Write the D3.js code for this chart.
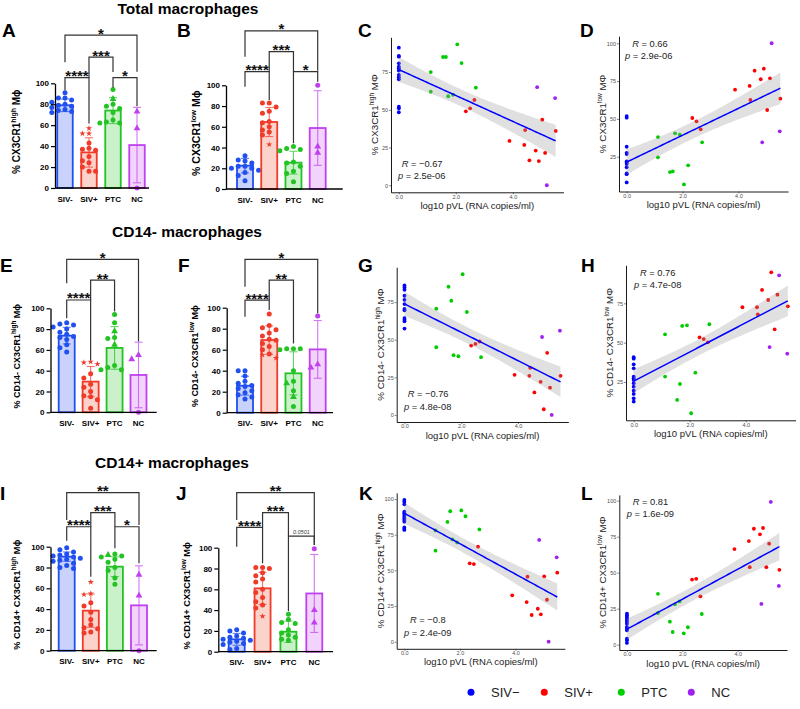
<!DOCTYPE html>
<html><head><meta charset="utf-8">
<script src="https://cdn.jsdelivr.net/npm/d3@7"></script>
<style>body{margin:0;background:#fff} svg{display:block}</style>
</head><body>
<script>
// ---------------- DATA ----------------
const groups = ["SIV-","SIV+","PTC","NC"];
const legendLabels = ["SIV\u2212","SIV+","PTC","NC"];

// Bar panels: means, SD, individual points (circles / triangles / stars)
const A_mean = [79, 34, 74, 41];
const A_sd = [6, 14, 12.5, 36];
const A_circ = [[91,86,86,84,82,80,79,78,77,75,74,73,72],[43,38,37,36,30,26,24,20,16,16],[94,80,78,76,72,65,63,62,62],[0]];
const A_tri = [[],[],[85],[73,57]];
const A_star = [[],[57,52,52],[],[]];
const A_brk = [[0,3,"*",146,120,111],[1,2,"***",125,105.4,110.8],[0,1,"****",105.4,93.3,61.6],[2,3,"*",105.4,96,78]];

const B_mean = [22.5, 64.6, 25.4, 58.8];
const B_sd = [7, 14, 11, 36];
const B_circ = [[32,28,27,25,22,22,20,20,18,16,13,8],[83,83,79,75,73,65,64,60,57,55,52],[41,39,38,37,26,25,22,17,15,7],[100]];
const B_tri = [[],[],[],[41,35]];
const B_star = [[],[43],[],[]];
const B_brk = [[0,3,"*",152.4,127.6,114],[1,2,"***",132.4,113.1,113.1],[0,1,"****",113.1,98.7,85.8],[2,3,"*",113.1,44,103.5]];

const E_mean = [73.7, 29.5, 61.9, 35.9];
const E_sd = [8, 14.5, 20.5, 31.5];
const E_circ = [[86,85,84,82,80,77,75,73,72,70,65,62,58],[37,33,27,24,20,16,15,12,4],[94,86,72,71,45,43,41,41],[0]];
const E_tri = [[],[],[78,65],[55,51]];
const E_star = [[],[48.7,47.8,46.5],[],[]];
const E_brk = [[0,3,"*",147,124,68],[1,2,"**",127,108,97],[0,1,"****",108,90.4,50.3]];

const F_mean = [25.7, 69.2, 37.5, 60.3];
const F_sd = [9, 13.5, 20.5, 27.5];
const F_circ = [[40,40,35,30,28,26,25,23,21,19,17,15,13],[94,83,81,79,76,73,70,69,66,63,60,56],[61,61,61,60,40,30,21,6],[92]];
const F_tri = [[],[],[28,15],[46,43]];
const F_star = [[],[55,52],[],[]];
const F_brk = [[0,3,"*",146,120,94.6],[1,2,"**",126.3,107.3,66],[0,1,"****",107.3,91.4,97.8]];

const I_mean = [90.4, 38.5, 80.8, 43.6];
const I_sd = [4.5, 16, 9.5, 38];
const I_circ = [[99,97,95,93,92,91,90,89,88,87,86,84,82,80,79],[46,43,37,30,25,22,21,18,17],[93,91,90,88,85,80,77,70,64],[0]];
const I_tri = [[],[],[92],[73,53]];
const I_star = [[],[66,55,54],[],[]];
const I_brk = [[0,3,"**",152,125.6,120.8],[1,2,"***",132.7,119.2,119.2],[0,1,"****",119.2,105.8,71.2],[2,3,"*",119.2,98.4,84]];

const J_mean = [11.9, 60.9, 19.2, 56];
const J_sd = [5.7, 15.5, 10.3, 37.5];
const J_circ = [[21,20,18,15,14,13,12,11,10,9,8,7,3,2],[81,81,80,76,73,70,67,60,57,52,48,45,42],[36,31,28,27,21,18,16,14,12,11],[99]];
const J_tri = [[],[],[],[40,28]];
const J_star = [[],[34],[],[]];
const J_brk = [[0,3,"**",153,126.6,102.6],[1,2,"***",133.7,119.6,111.2],[0,1,"****",119.6,101,85],[2,3,"0.0501",111.2,39,102.6]];

// Scatter panels: log10 pVL per animal (SIV- animals are at 0)
const pvlNeg = 0;
const pvlPos = [2.35,2.5,2.65,3.88,4.4,4.43,4.58,4.8,4.91,5.03,5.13,5.5];
const pvlPTC = [1.12,1.12,1.55,1.65,1.73,1.9,2.05,2.2,2.7];
const pvlNC  = [4.85,5.19,5.48];

const C_neg = [91.2,85.7,85.2,80.8,78.6,77.5,76,73.1,71.6,70.2,52.1,51,48.4];
const C_pos = [49,51,56.5,29.4,26.7,36.6,16.5,23,16,43.5,21.4,36];
const C_ptc = [75,62,85,85,59,60,93.4,81,64.7];
const C_nc  = [65,0,57.8];

const D_neg = [51.9,50.8,31.6,27.6,26.8,22,21,20.2,18,14,13.5,8];
const D_pos = [50.6,48.4,43.1,69.3,71.8,62.5,81.9,76.2,83.2,55.9,76.8,63.4];
const D_ptc = [38,24.6,14.9,15.3,40.5,39.6,6.7,19.3,34.5];
const D_nc  = [34.5,100,41.8];

const G_neg = [86,84.7,83.2,79.2,76.5,73.7,70.4,69.5,64.4,63.3,62.2,57.4];
const G_pos = [46.1,47.2,48.8,26.7,26,31.3,15,22,3.8,41.3,18.1,26];
const G_ptc = [70.6,45,85.2,75.9,39.7,39,93.5,68.4,38.4];
const G_nc  = [51.8,0,56];

const H_neg = [40.7,39.8,36.2,33.7,28.4,27.3,26.3,24.2,22,19.5,17.4,14.6,12.5];
const H_pos = [53.4,52.3,50.2,72.5,72.5,68,83.5,77.1,94.7,58.5,80.5,73.1];
const H_ptc = [55.3,28.4,13.6,23.7,60.6,61,5.1,30.9,61.7];
const H_nc  = [47.2,92.8,43];

const K_neg = [99.3,98.1,96.3,91.1,90,88.8,87.6,86.4,85.3,84.1,80.1,79,78.3];
const K_pos = [54.9,54.4,66.6,32.5,27.8,45.6,18.7,23.1,19.2,45.8,29.4,48.4];
const K_ptc = [63.8,78,83.9,91.4,71.7,69.6,92,87.9,78.7];
const K_nc  = [71.3,0,59.1];

const L_neg = [21.6,20.4,19.3,18.1,16.9,15.8,14.6,12.3,11.1,10,4.2,3,1.2];
const L_pos = [45.2,45.7,33.6,66.4,71.9,53.8,80.5,76.6,81,53.8,70.1,52];
const L_ptc = [35.3,22,16,8.8,28,30,7.9,12.1,21.3];
const L_nc  = [28.3,99.1,40.8];

const statR = ["R = \u22120.67","R = 0.66","R = \u22120.76","R = 0.76","R = \u22120.8","R = 0.81"];
const statP = ["2.5e-06","2.9e-06","4.8e-08","4.7e-08","2.4e-09","1.6e-09"];

// ---------------- STYLE ----------------
const BAR_STROKE = ["#2050f0","#f03a2a","#22c322","#c040f0"];
const BAR_FILL   = ["#c8d2fa","#fcd3cb","#cbf1cb","#f1d3fb"];
const SC_COL     = ["#0000ff","#ff0000","#00cd00","#a020f0"];
const FONT = "'Liberation Sans', Arial, Helvetica, sans-serif";

const W = 800, H = 709;
const svg = d3.select("body").append("svg").attr("width", W).attr("height", H)
  .style("font-family", FONT);

// Titles
[["Total macrophages",188,14],["CD14- macrophages",187,237],["CD14+ macrophages",172,468]].forEach(t=>{
  svg.append("text").attr("x",t[1]).attr("y",t[2]).attr("text-anchor","middle")
    .attr("font-size",15.5).attr("font-weight","bold").text(t[0]);
});
// Panel letters
[["A",2,37],["B",177,37],["C",358,37],["D",580,37],["E",0,272],["F",178,272],["G",358,272],["H",581,272],
 ["I",0,500],["J",176,500],["K",359,500],["L",581,500]].forEach(t=>{
  svg.append("text").attr("x",t[1]).attr("y",t[2]).attr("font-size",19).attr("font-weight","bold").text(t[0]);
});

// ---------------- BAR PANELS ----------------
function swarm(items, y, spread) {
  // deterministic beeswarm: sort by value, place at first non-colliding offset
  const offs = [0,-spread*0.5,spread*0.5,-spread,spread,-spread*0.25,spread*0.25,-spread*0.75,spread*0.75];
  const placed = [];
  items.slice().sort((a,b)=>b.v-a.v).forEach(it=>{
    const py = y(it.v);
    let best = offs[0], bestD = -1;
    for (const o of offs) {
      let md = Infinity;
      placed.forEach(p=>{ const d = Math.hypot(p.dx-o, p.py-py); if (d<md) md=d; });
      if (md >= 4.6) { best = o; bestD = Infinity; break; }
      if (md > bestD) { bestD = md; best = o; }
    }
    placed.push({...it, dx:best, py});
  });
  return placed;
}

function drawBar(p) {
  const g = svg.append("g");
  const x = d3.scalePoint().domain(groups).range([p.cats[0], p.cats[1]]);
  const y = d3.scaleLinear().domain([0,100]).range([p.y0, p.y100]);
  groups.forEach((gn,i)=>{
    const cx = x(gn), bw = p.barW;
    g.append("rect").attr("x",cx-bw/2).attr("y",y(p.mean[i])).attr("width",bw)
      .attr("height",y(0)-y(p.mean[i])).attr("fill",BAR_FILL[i]).attr("stroke",BAR_STROKE[i]).attr("stroke-width",1.8);
    const lo = y(Math.max(0,p.mean[i]-p.sd[i])), hi = y(p.mean[i]+p.sd[i]);
    const eg = g.append("g").attr("stroke",BAR_STROKE[i]).attr("stroke-width",1.1).attr("opacity",0.7);
    eg.append("line").attr("x1",cx).attr("x2",cx).attr("y1",lo).attr("y2",hi);
    eg.append("line").attr("x1",cx-4).attr("x2",cx+4).attr("y1",hi).attr("y2",hi);
    eg.append("line").attr("x1",cx-4).attr("x2",cx+4).attr("y1",lo).attr("y2",lo);
    const items = [];
    p.circ[i].forEach(v=>items.push({v,s:"c"}));
    p.tri[i].forEach(v=>items.push({v,s:"t"}));
    p.star[i].forEach(v=>items.push({v,s:"s"}));
    swarm(items, y, p.barW*0.85).forEach(pt=>{
      if (pt.s==="c") {
        g.append("circle").attr("cx",cx+pt.dx).attr("cy",pt.py).attr("r",2.5).attr("fill",BAR_STROKE[i]);
      } else {
        const sym = pt.s==="t" ? d3.symbol(d3.symbolTriangle, 20) : d3.symbol(d3.symbolStar, 12);
        g.append("path").attr("d",sym()).attr("transform",`translate(${cx+pt.dx},${pt.py})`).attr("fill",BAR_STROKE[i]);
      }
    });
  });
  // axes
  const ax = g.append("g").attr("transform",`translate(${p.axisX},0)`)
    .call(d3.axisLeft(y).tickValues([0,20,40,60,80,100]).tickSize(4).tickPadding(2).tickSizeOuter(0));
  ax.select(".domain").attr("stroke","#000").attr("stroke-width",1.3);
  ax.selectAll(".tick line").attr("stroke","#000").attr("stroke-width",1.2);
  ax.selectAll(".tick text").attr("font-size",8).attr("font-weight","bold").attr("font-family",FONT).attr("fill","#000");
  g.append("line").attr("x1",p.axisX).attr("x2",p.xEnd).attr("y1",y(0)).attr("y2",y(0))
    .attr("stroke","#000").attr("stroke-width",1.3);
  groups.forEach(gn=>{
    g.append("text").attr("x",x(gn)).attr("y",p.y0+13.5).attr("text-anchor","middle")
      .attr("font-size",8).attr("font-weight","bold").text(gn);
  });
  // y title
  const cy = (p.y0+p.y100)/2 - 4;
  const t = g.append("text").attr("transform",`translate(${p.labelX},${cy}) rotate(-90)`)
    .attr("text-anchor","middle").attr("font-size",p.labelSize).attr("font-weight","bold");
  t.append("tspan").text(p.label[0]);
  t.append("tspan").attr("dy",-p.labelSize*0.4).attr("font-size",p.labelSize*0.7).text(p.label[1]);
  t.append("tspan").attr("dy",p.labelSize*0.4).text(" M\u03d5");
  // brackets
  p.brk.forEach(b=>{
    const x1 = x(groups[b[0]]), x2 = x(groups[b[1]]);
    g.append("path").attr("d",`M${x1},${y(b[4])}V${y(b[3])}H${x2}V${y(b[5])}`)
      .attr("fill","none").attr("stroke","#333").attr("stroke-width",1.2);
    if (b[2].startsWith("*")) {
      g.append("text").attr("x",(x1+x2)/2).attr("y",y(b[3])+3.5).attr("text-anchor","middle")
        .attr("font-size",15).attr("font-weight","bold").attr("fill","#111").text(b[2]);
    } else {
      g.append("text").attr("x",(x1+x2)/2).attr("y",y(b[3])-2).attr("text-anchor","middle")
        .attr("font-size",5.5).attr("font-style","italic").attr("fill","#444").text(b[2]);
    }
  });
}

drawBar({mean:A_mean, sd:A_sd, circ:A_circ, tri:A_tri, star:A_star, brk:A_brk,
  axisX:55, y0:188, y100:83.3, cats:[65,137], xEnd:149, barW:15.5,
  labelX:20, labelSize:10, label:["% CX3CR1","high"]});
drawBar({mean:B_mean, sd:B_sd, circ:B_circ, tri:B_tri, star:B_star, brk:B_brk,
  axisX:226, y0:189, y100:85.3, cats:[245,317.7], xEnd:342.7, barW:16,
  labelX:200, labelSize:10.5, label:["% CX3CR1","low"]});
drawBar({mean:E_mean, sd:E_sd, circ:E_circ, tri:E_tri, star:E_star, brk:E_brk,
  axisX:50.5, y0:412.3, y100:308.3, cats:[66.7,138.5], xEnd:156.7, barW:16,
  labelX:20, labelSize:9, label:["% CD14- CX3CR1","high"]});
drawBar({mean:F_mean, sd:F_sd, circ:F_circ, tri:F_tri, star:F_star, brk:F_brk,
  axisX:226.7, y0:412.7, y100:307.7, cats:[245,317.7], xEnd:333, barW:16,
  labelX:198, labelSize:9, label:["% CD14- CX3CR1","low"]});
drawBar({mean:I_mean, sd:I_sd, circ:I_circ, tri:I_tri, star:I_star, brk:I_brk,
  axisX:50.5, y0:650.7, y100:546.7, cats:[66.7,139], xEnd:156.7, barW:16,
  labelX:20, labelSize:9.3, label:["% CD14+ CX3CR1","high"]});
drawBar({mean:J_mean, sd:J_sd, circ:J_circ, tri:J_tri, star:J_star, brk:J_brk,
  axisX:218.3, y0:651.7, y100:547.7, cats:[236.7,314.3], xEnd:333, barW:16,
  labelX:190, labelSize:9.3, label:["% CD14+ CX3CR1","low"]});

// ---------------- SCATTER PANELS ----------------
function drawScatter(p, idx) {
  const g = svg.append("g");
  const sets = [
    {x:p.neg.map(()=>pvlNeg), y:p.neg, c:SC_COL[0]},
    {x:pvlPos, y:p.pos, c:SC_COL[1]},
    {x:pvlPTC, y:p.ptc, c:SC_COL[2]},
    {x:pvlNC, y:p.nc, c:SC_COL[3]}
  ];
  const allX = [].concat(...sets.map(s=>s.x)), allY = [].concat(...sets.map(s=>s.y));
  const xe = d3.extent(allX), ye = d3.extent(allY);
  const xp = (xe[1]-xe[0])*0.05, yp = (ye[1]-ye[0])*0.05;
  const x = d3.scaleLinear().domain([xe[0]-xp, xe[1]+xp]).range([p.l, p.r]);
  const y = d3.scaleLinear().domain([ye[0]-yp, ye[1]+yp]).range([p.b, p.t]);
  // points
  sets.forEach(s=>{
    s.y.forEach((v,i)=>{
      g.append("circle").attr("cx",x(s.x[i])).attr("cy",y(v)).attr("r",1.9).attr("fill",s.c);
    });
  });
  // linear fit with 95% CI
  const n = allX.length, mx = d3.mean(allX), my = d3.mean(allY);
  let sxx=0, sxy=0;
  allX.forEach((xv,i)=>{ sxx += (xv-mx)**2; sxy += (xv-mx)*(allY[i]-my); });
  const b = sxy/sxx, a = my - b*mx;
  let sse = 0; allX.forEach((xv,i)=>{ sse += (allY[i]-(a+b*xv))**2; });
  const s = Math.sqrt(sse/(n-2)), tq = 2.03;
  const grid = d3.range(0,81).map(k=> xe[0] + (xe[1]-xe[0])*k/80);
  const band = grid.map(xv=>{
    const f = a+b*xv, se = s*Math.sqrt(1/n + (xv-mx)**2/sxx);
    return {x:xv, lo:f-tq*se, hi:f+tq*se, f};
  });
  g.append("path").datum(band).attr("d", d3.area().x(d=>x(d.x)).y0(d=>y(d.lo)).y1(d=>y(d.hi)))
    .attr("fill","#999").attr("opacity",0.3);
  g.append("path").datum(band).attr("d", d3.line().x(d=>x(d.x)).y(d=>y(d.f)))
    .attr("fill","none").attr("stroke","#0000ff").attr("stroke-width",1.5);
  // axes
  const [d0,d1] = y.domain();
  const xa = g.append("g").attr("transform",`translate(0,${p.b})`)
    .call(d3.axisBottom(x).tickValues([0,2,4]).tickSize(2).tickPadding(0.5).tickSizeOuter(0));
  const ya = g.append("g").attr("transform",`translate(${p.l},0)`)
    .call(d3.axisLeft(y).tickValues([0,25,50,75,100].filter(v=>v>=d0&&v<=d1)).tickSize(2).tickPadding(1).tickSizeOuter(0));
  [xa,ya].forEach(ax=>{
    ax.select(".domain").attr("stroke","#000").attr("stroke-width",0.9);
    ax.selectAll(".tick line").attr("stroke","#333").attr("stroke-width",0.6);
    ax.selectAll(".tick text").attr("font-size",5.5).attr("fill","#4d4d4d").attr("font-family",FONT);
  });
  // titles
  g.append("text").attr("x",(p.l+p.r)/2).attr("y",p.b+16.5).attr("text-anchor","middle")
    .attr("font-size",9.5).attr("fill","#222").text("log10 pVL (RNA copies/ml)");
  const t = g.append("text").attr("transform",`translate(${p.l-13},${(p.t+p.b)/2}) rotate(-90)`)
    .attr("text-anchor","middle").attr("font-size",9.8).attr("fill","#222");
  t.append("tspan").text(p.label[0]);
  t.append("tspan").attr("dy",-4).attr("font-size",6.5).text(p.label[1]);
  t.append("tspan").attr("dy",4).text(" M\u03a6");
  // stats
  const st = g.append("g").attr("font-size",9.3).attr("fill","#222");
  const r1 = st.append("text").attr("x",p.rx).attr("y",p.ry);
  r1.append("tspan").attr("font-style","italic").text("R");
  r1.append("tspan").text(statR[idx].slice(1));
  const r2 = st.append("text").attr("x",p.px).attr("y",p.ry+12.3);
  r2.append("tspan").attr("font-style","italic").text("p");
  r2.append("tspan").text(" = " + statP[idx]);
}

drawScatter({neg:C_neg,pos:C_pos,ptc:C_ptc,nc:C_nc, l:391,t:37.3,r:563.5,b:192.3, rx:401.7,ry:166.7,px:398, label:["% CX3CR1","high"]},0);
drawScatter({neg:D_neg,pos:D_pos,ptc:D_ptc,nc:D_nc, l:619,t:36.2,r:788,b:191.5, rx:632.3,ry:47,px:625, label:["% CX3CR1","low"]},1);
drawScatter({neg:G_neg,pos:G_pos,ptc:G_ptc,nc:G_nc, l:396.7,t:267.2,r:568.3,b:422, rx:407.7,ry:397.3,px:404, label:["% CD14- CX3CR1","high"]},2);
drawScatter({neg:H_neg,pos:H_pos,ptc:H_ptc,nc:H_nc, l:626,t:265.3,r:795.5,b:420.3, rx:640,ry:275.7,px:634, label:["% CD14- CX3CR1","low"]},3);
drawScatter({neg:K_neg,pos:K_pos,ptc:K_ptc,nc:K_nc, l:396.7,t:492.9,r:564.9,b:648.8, rx:410,ry:623.3,px:404, label:["% CD14+ CX3CR1","high"]},4);
drawScatter({neg:L_neg,pos:L_pos,ptc:L_ptc,nc:L_nc, l:619.3,t:494.9,r:787,b:650, rx:632.7,ry:505,px:626.7, label:["% CD14+ CX3CR1","low"]},5);

// ---------------- LEGEND ----------------
const legX = [471, 544.3, 621.3, 691.3];
const lg = svg.append("g");
legendLabels.forEach((lab,i)=>{
  lg.append("circle").attr("cx",legX[i]).attr("cy",692.3).attr("r",3.5).attr("fill",SC_COL[i]);
  lg.append("text").attr("x",legX[i]+20).attr("y",697).attr("font-size",13).attr("fill","#222").text(lab);
});
</script>
</body></html>
